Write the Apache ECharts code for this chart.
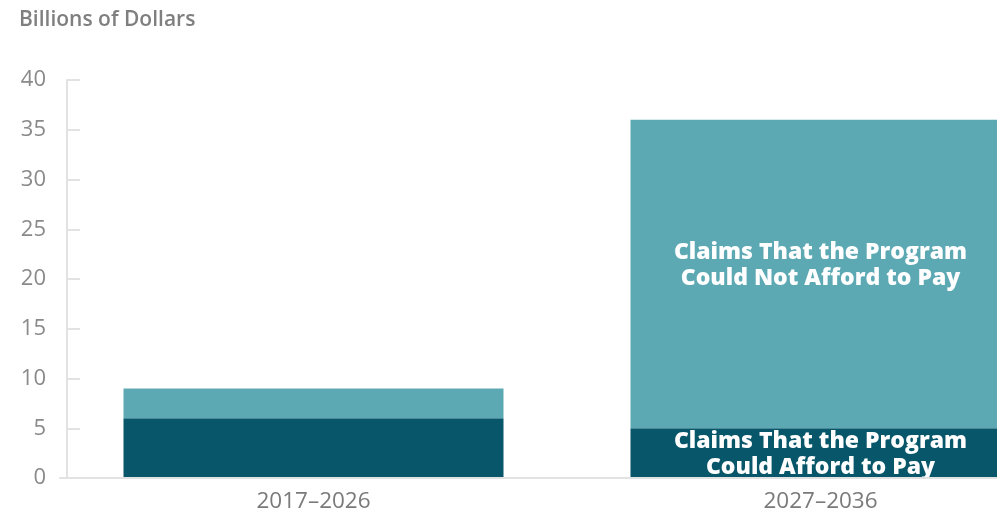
<!DOCTYPE html>
<html>
<head>
<meta charset="utf-8">
<script src="https://cdn.jsdelivr.net/npm/echarts@6/dist/echarts.min.js"></script>
<style>
  html, body { margin: 0; padding: 0; background: #fff; }
  #chart { width: 997px; height: 516px; }
</style>
</head>
<body>
<div id="chart"></div>
<script>
// Claims by ten-year period, billions of dollars
const periods = ['2017\u20132026', '2027\u20132036'];
const affordable = [6, 5];
const unaffordable = [3, 31];
const yTicks = [0, 5, 10, 15, 20, 25, 30, 35, 40];

const FONT = '"Open Sans", Lato, sans-serif';
const chart = echarts.init(document.getElementById('chart'), null, { renderer: 'canvas' });

chart.setOption({
  animation: false,
  backgroundColor: '#ffffff',
  title: {
    text: 'Billions of Dollars',
    left: 14,
    top: 5,
    textStyle: { fontFamily: FONT, fontSize: 21, fontWeight: 600, color: '#7f7f7f' }
  },
  grid: { left: 60, width: 1014, top: 80, bottom: 38, outerBoundsMode: 'none', containLabel: false },
  xAxis: {
    type: 'category',
    data: periods,
    axisLine: { show: true, lineStyle: { color: '#e2e2e2', width: 2 } },
    axisTick: { show: false },
    axisLabel: { margin: 12, fontFamily: FONT, fontSize: 22.5, color: '#7a7a7a' },
    z: 5
  },
  yAxis: {
    type: 'value',
    min: yTicks[0],
    max: yTicks[yTicks.length - 1],
    interval: 5,
    offset: -7,
    splitLine: { show: false },
    axisLine: { show: true, lineStyle: { color: '#e2e2e2', width: 2 } },
    axisTick: { show: true, inside: true, length: 13, lineStyle: { color: '#e2e2e2', width: 2 } },
    axisLabel: { margin: 21, fontFamily: FONT, fontSize: 22, color: '#8a8a8a' }
  },
  series: [
    {
      name: 'Claims That the Program Could Afford to Pay',
      type: 'bar',
      stack: 'claims',
      barWidth: 380,
      data: affordable.map((v, i) => ({
        value: v,
        label: { show: i === 1 }
      })),
      itemStyle: { color: '#08566a' },
      label: {
        position: 'inside',
        offset: [0, 1.5],
        formatter: 'Claims That the Program\nCould Afford to Pay',
        fontFamily: FONT, fontSize: 23, fontWeight: 800, color: '#ffffff', lineHeight: 26
      }
    },
    {
      name: 'Claims That the Program Could Not Afford to Pay',
      type: 'bar',
      stack: 'claims',
      barWidth: 380,
      data: unaffordable.map((v, i) => ({
        value: v,
        label: { show: i === 1 }
      })),
      itemStyle: { color: '#5ca9b4' },
      label: {
        position: 'inside',
        offset: [0, -9],
        formatter: 'Claims That the Program\nCould Not Afford to Pay',
        fontFamily: FONT, fontSize: 23, fontWeight: 800, color: '#ffffff', lineHeight: 26
      }
    }
  ]
});
</script>
</body>
</html>
